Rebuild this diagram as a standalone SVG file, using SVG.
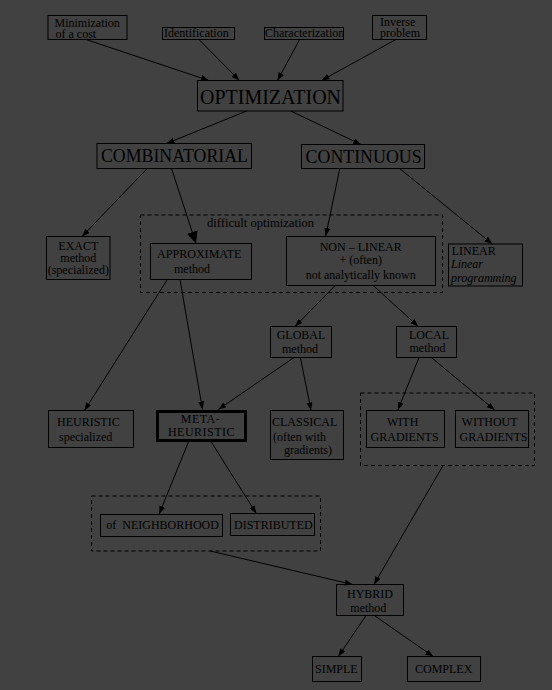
<svg xmlns="http://www.w3.org/2000/svg" width="552" height="690" viewBox="0 0 552 690">
<defs>
<marker id="ah" markerUnits="userSpaceOnUse" markerWidth="9" markerHeight="7" refX="8" refY="3" orient="auto">
<path d="M0,0 L8,3 L0,6 z" fill="#000"/>
</marker>
<marker id="ahb" markerUnits="userSpaceOnUse" markerWidth="13" markerHeight="12" refX="12" refY="5.5" orient="auto">
<path d="M0,0 L12,5.5 L0,11 z" fill="#000"/>
</marker>
<style>
text{font-family:"Liberation Serif","Times New Roman",serif;font-size:12px;fill:#000}
.box{fill:none;stroke:#000;stroke-width:1}
.thick{fill:none;stroke:#000;stroke-width:3}
.dash{fill:none;stroke:#000;stroke-width:1;stroke-dasharray:4 3}
.c{text-anchor:middle}
.it{font-style:italic}
#connectors line{stroke:#000;stroke-width:1;marker-end:url(#ah)}
</style>
</defs>
<rect x="0" y="0" width="552" height="690" fill="#414141"/>

<g id="group-difficult">
<rect class="dash" x="140.5" y="215" width="302" height="77.5"/>
<text x="207" y="227.3" textLength="107" lengthAdjust="spacingAndGlyphs">difficult optimization</text>
</g>
<g id="group-gradients">
<rect class="dash" x="360.5" y="393" width="174" height="72.5"/>
</g>
<g id="group-meta">
<rect class="dash" x="91.5" y="496" width="229" height="55"/>
</g>

<g id="n-min">
<rect class="box" x="48" y="15.5" width="79" height="24"/>
<text x="54.5" y="26.5">Minimization</text>
<text x="55.5" y="37.5">of a cost</text>
</g>
<g id="n-ident">
<rect class="box" x="162.5" y="27.5" width="72" height="12"/>
<text x="164" y="36.5">Identification</text>
</g>
<g id="n-charac">
<rect class="box" x="264.5" y="27.5" width="79" height="12"/>
<text x="265" y="37">Characterization</text>
</g>
<g id="n-inverse">
<rect class="box" x="372.5" y="15.5" width="54" height="24"/>
<text x="380" y="26">Inverse</text>
<text x="380" y="37">problem</text>
</g>
<g id="n-optim">
<rect class="box" x="197.5" y="80.5" width="145.5" height="30.5"/>
<text x="200" y="103.5" style="font-size:20px" textLength="141" lengthAdjust="spacingAndGlyphs">OPTIMIZATION</text>
</g>
<g id="n-comb">
<rect class="box" x="97" y="143.5" width="154.5" height="25"/>
<text x="101" y="161.7" style="font-size:18px" textLength="147" lengthAdjust="spacingAndGlyphs">COMBINATORIAL</text>
</g>
<g id="n-cont">
<rect class="box" x="301.5" y="144.5" width="123" height="24"/>
<text x="305.6" y="163" style="font-size:18px" textLength="116" lengthAdjust="spacingAndGlyphs">CONTINUOUS</text>
</g>
<g id="n-exact">
<rect class="box" x="46.5" y="236.5" width="63.5" height="43"/>
<text class="c" x="78.3" y="250">EXACT</text>
<text class="c" x="78.3" y="262">method</text>
<text class="c" x="78.3" y="273.5">(specialized)</text>
</g>
<g id="n-approx">
<rect class="box" x="150.5" y="243.5" width="101" height="36"/>
<text x="157" y="258" textLength="84.5" lengthAdjust="spacingAndGlyphs">APPROXIMATE</text>
<text class="c" x="192" y="272.7">method</text>
</g>
<g id="n-nonlin">
<rect class="box" x="286.5" y="236.5" width="149" height="49"/>
<text class="c" x="360.7" y="251">NON – LINEAR</text>
<text class="c" x="360.7" y="263.7">+ (often)</text>
<text class="c" x="360.7" y="278.7">not analytically known</text>
</g>
<g id="n-linear">
<rect class="box" x="448.5" y="244" width="74" height="42"/>
<text x="451.7" y="255">LINEAR</text>
<text class="it" x="451" y="267.7">Linear</text>
<text class="it" x="451" y="282">programming</text>
</g>
<g id="n-global">
<rect class="box" x="270.5" y="326.5" width="61" height="31"/>
<text class="c" x="301" y="339">GLOBAL</text>
<text class="c" x="300" y="353">method</text>
</g>
<g id="n-local">
<rect class="box" x="396.5" y="326.5" width="60" height="31"/>
<text class="c" x="429" y="339">LOCAL</text>
<text class="c" x="427.5" y="352">method</text>
</g>
<g id="n-heur">
<rect class="box" x="48.5" y="410.5" width="85" height="37"/>
<text x="57" y="426">HEURISTIC</text>
<text x="59" y="441">specialized</text>
</g>
<g id="n-meta">
<rect class="thick" x="157.5" y="411.5" width="88" height="29"/>
<text class="c" x="200.5" y="422.7" style="letter-spacing:0.5px">META-</text>
<text class="c" x="201.5" y="435.5" style="letter-spacing:0.5px">HEURISTIC</text>
</g>
<g id="n-classical">
<rect class="box" x="270.5" y="410.5" width="73" height="49"/>
<text x="272" y="425.5">CLASSICAL</text>
<text x="273" y="441">(often with</text>
<text x="284" y="453.5">gradients)</text>
</g>
<g id="n-with">
<rect class="box" x="366.5" y="410.5" width="78" height="37"/>
<text class="c" x="402.7" y="425.5">WITH</text>
<text class="c" x="404.6" y="440.5">GRADIENTS</text>
</g>
<g id="n-without">
<rect class="box" x="455.5" y="410.5" width="73" height="37"/>
<text x="461.6" y="425.5">WITHOUT</text>
<text x="459.5" y="440.5">GRADIENTS</text>
</g>
<g id="n-neigh">
<rect class="box" x="100.5" y="514.5" width="122" height="22"/>
<text x="106.3" y="529" xml:space="preserve">of  NEIGHBORHOOD</text>
</g>
<g id="n-distrib">
<rect class="box" x="230.5" y="513.5" width="84" height="22"/>
<text x="234" y="529">DISTRIBUTED</text>
</g>
<g id="n-hybrid">
<rect class="box" x="336.5" y="584.5" width="67" height="31"/>
<text class="c" x="370" y="597.5">HYBRID</text>
<text class="c" x="368.3" y="611.5">method</text>
</g>
<g id="n-simple">
<rect class="box" x="312.5" y="656.5" width="49" height="25"/>
<text x="315" y="672.5">SIMPLE</text>
</g>
<g id="n-complex">
<rect class="box" x="407.5" y="656.5" width="73" height="25"/>
<text x="415" y="672.5">COMPLEX</text>
</g>

<g id="connectors">
<line x1="86" y1="39.5" x2="208.8" y2="80.5"/>
<line x1="199" y1="39.5" x2="239.4" y2="80.5"/>
<line x1="299.6" y1="39.5" x2="277.5" y2="80.5"/>
<line x1="395.8" y1="39.5" x2="321.5" y2="80.5"/>
<line x1="246.5" y1="111" x2="166.5" y2="143.5"/>
<line x1="290.8" y1="111" x2="361" y2="144.5"/>
<line x1="147.2" y1="168.5" x2="82" y2="236.5"/>
<line x1="171.5" y1="168.5" x2="196" y2="243.5" style="marker-end:url(#ahb)"/>
<line x1="339.8" y1="168.5" x2="325.7" y2="236"/>
<line x1="399.6" y1="168.5" x2="492.3" y2="244"/>
<line x1="335.2" y1="285.5" x2="295" y2="326.5"/>
<line x1="373.2" y1="285.5" x2="418.3" y2="326.5"/>
<line x1="167.3" y1="279.5" x2="84.5" y2="410.5"/>
<line x1="180" y1="279.5" x2="202.5" y2="409.5"/>
<line x1="294" y1="357.5" x2="218.3" y2="409.5"/>
<line x1="300.4" y1="357.5" x2="311" y2="410.5"/>
<line x1="419" y1="357.5" x2="397.9" y2="410"/>
<line x1="431.3" y1="357.5" x2="494.7" y2="410"/>
<line x1="188.4" y1="442" x2="159.2" y2="514"/>
<line x1="211.3" y1="442" x2="256.3" y2="513.5"/>
<line x1="210.2" y1="551" x2="352.7" y2="584.5"/>
<line x1="443" y1="465.5" x2="374" y2="584.5"/>
<line x1="366" y1="615.5" x2="338.3" y2="656.5"/>
<line x1="374.3" y1="615.5" x2="433.3" y2="656.5"/>
</g>
</svg>
